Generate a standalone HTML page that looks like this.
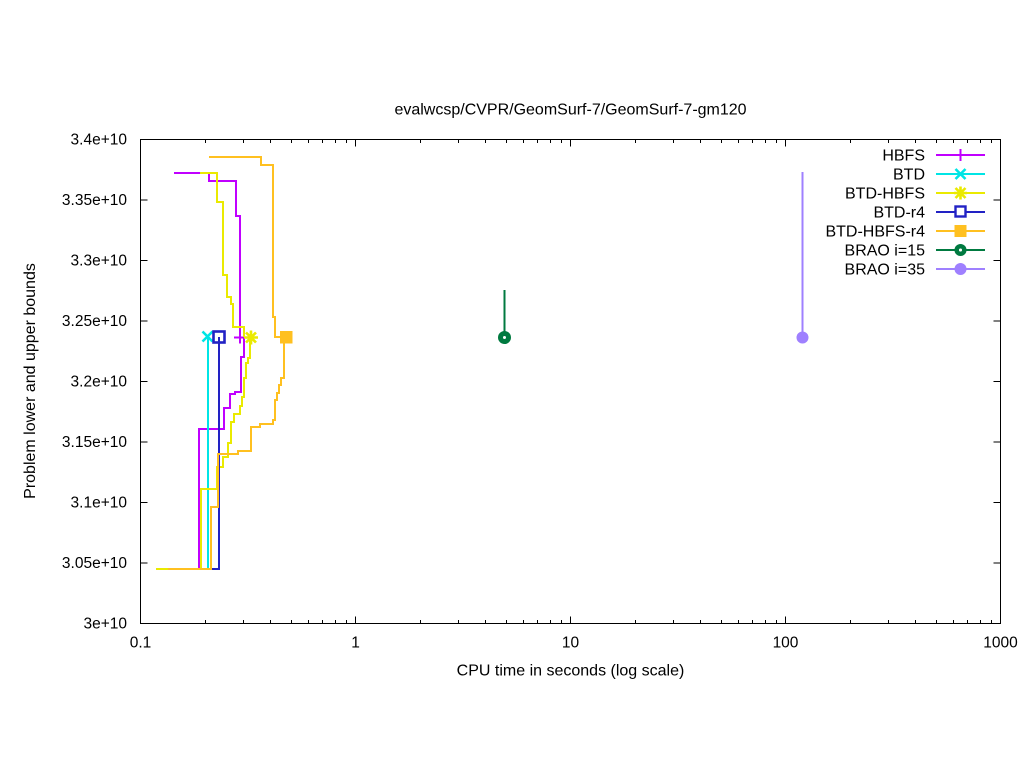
<!DOCTYPE html>
<html>
<head>
<meta charset="utf-8">
<style>
  html,body{margin:0;padding:0;background:#fff;}
  svg{display:block;}
  text{font-family:"Liberation Sans",Arial,sans-serif;fill:#000;}
</style>
</head>
<body>
<svg width="1024" height="768" viewBox="0 0 1024 768" xmlns="http://www.w3.org/2000/svg">
  <rect x="0" y="0" width="1024" height="768" fill="#fff"/>

  <!-- Title -->
  <text x="570.5" y="114.5" font-size="16" text-anchor="middle">evalwcsp/CVPR/GeomSurf-7/GeomSurf-7-gm120</text>

  <!-- Y tick labels -->
  <g font-size="15.5" text-anchor="end">
    <text x="127" y="144.5">3.4e+10</text>
    <text x="127" y="205">3.35e+10</text>
    <text x="127" y="265.5">3.3e+10</text>
    <text x="127" y="326">3.25e+10</text>
    <text x="127" y="386.5">3.2e+10</text>
    <text x="127" y="447">3.15e+10</text>
    <text x="127" y="507.5">3.1e+10</text>
    <text x="127" y="568">3.05e+10</text>
    <text x="127" y="628.5">3e+10</text>
  </g>

  <!-- X tick labels -->
  <g font-size="15.5" text-anchor="middle">
    <text x="140.5" y="647.5">0.1</text>
    <text x="355.5" y="647.5">1</text>
    <text x="570.5" y="647.5">10</text>
    <text x="785.5" y="647.5">100</text>
    <text x="1000.5" y="647.5">1000</text>
  </g>

  <!-- Axis labels -->
  <text x="570.5" y="675.5" font-size="16" text-anchor="middle">CPU time in seconds (log scale)</text>
  <text transform="translate(35,381) rotate(-90)" x="0" y="0" font-size="16" text-anchor="middle">Problem lower and upper bounds</text>

  <!-- Ticks -->
  <g stroke="#000" stroke-width="1" fill="none">
    <!-- Y major ticks left & right -->
    <path d="M140.5,200H147.5 M140.5,260.5H147.5 M140.5,321H147.5 M140.5,381.5H147.5 M140.5,442H147.5 M140.5,502.5H147.5 M140.5,563H147.5"/>
    <path d="M1000.5,200H993.5 M1000.5,260.5H993.5 M1000.5,321H993.5 M1000.5,381.5H993.5 M1000.5,442H993.5 M1000.5,502.5H993.5 M1000.5,563H993.5"/>
    <!-- X major ticks bottom & top -->
    <path d="M355.5,623.5V616.5 M570.5,623.5V616.5 M785.5,623.5V616.5"/>
    <path d="M355.5,139.5V146.5 M570.5,139.5V146.5 M785.5,139.5V146.5"/>
    <!-- X minor ticks bottom -->
    <path d="M205.5,623.5V620 M243.5,623.5V620 M270.5,623.5V620 M291.5,623.5V620 M308.5,623.5V620 M322.5,623.5V620 M335.5,623.5V620 M346.5,623.5V620
             M420.5,623.5V620 M458.5,623.5V620 M485.5,623.5V620 M506.5,623.5V620 M523.5,623.5V620 M537.5,623.5V620 M550.5,623.5V620 M561.5,623.5V620
             M635.5,623.5V620 M673.5,623.5V620 M700.5,623.5V620 M721.5,623.5V620 M738.5,623.5V620 M752.5,623.5V620 M765.5,623.5V620 M776.5,623.5V620
             M850.5,623.5V620 M888.5,623.5V620 M915.5,623.5V620 M936.5,623.5V620 M953.5,623.5V620 M967.5,623.5V620 M980.5,623.5V620 M991.5,623.5V620"/>
    <!-- X minor ticks top -->
    <path d="M205.5,139.5V143 M243.5,139.5V143 M270.5,139.5V143 M291.5,139.5V143 M308.5,139.5V143 M322.5,139.5V143 M335.5,139.5V143 M346.5,139.5V143
             M420.5,139.5V143 M458.5,139.5V143 M485.5,139.5V143 M506.5,139.5V143 M523.5,139.5V143 M537.5,139.5V143 M550.5,139.5V143 M561.5,139.5V143
             M635.5,139.5V143 M673.5,139.5V143 M700.5,139.5V143 M721.5,139.5V143 M738.5,139.5V143 M752.5,139.5V143 M765.5,139.5V143 M776.5,139.5V143
             M850.5,139.5V143 M888.5,139.5V143 M915.5,139.5V143 M936.5,139.5V143 M953.5,139.5V143 M967.5,139.5V143 M980.5,139.5V143 M991.5,139.5V143"/>
  </g>

  <!-- Series -->
  <g fill="none" stroke-width="2" stroke-linejoin="miter" stroke-linecap="butt">
    <!-- HBFS -->
    <path stroke="#c000ff" d="M174,173H209V181H236V216H240V337"/>
    <path stroke="#c000ff" d="M190,569H199V429H224V408H230V394H235V392H241V357H244V337"/>
    <path stroke="#c000ff" d="M234,337.5H246 M240,331.5V343.5"/>

    <!-- BTD -->
    <path stroke="#00e5e5" d="M190,569H208V337"/>
    <path stroke="#00e5e5" stroke-width="2.6" d="M202.5,331.5L212.5,341.5 M212.5,331.5L202.5,341.5"/>

    <!-- BTD-HBFS -->
    <path stroke="#eaea00" d="M200,173H217V202H223V275H227V297H231V304H233V327H244V337"/>
    <path stroke="#eaea00" d="M156,569H201V489H217V467H223V457H228V443H231V422H234V414H240V406H242V397H244V378H246V363H248V358H250V337"/>
    <path stroke="#eaea00" stroke-width="2.6" d="M244,337.5H258 M251,330.5V344.5 M246,332.5L256,342.5 M256,332.5L246,342.5"/>

    <!-- BTD-r4 -->
    <path stroke="#2222c4" d="M190,569H219V337"/>
    <rect x="213.5" y="331.5" width="11" height="11" stroke="#2222c4" stroke-width="2.6" fill="none"/>

    <!-- BTD-HBFS-r4 -->
    <path stroke="#ffc020" d="M209,157H261V165H273V317H275V337H286"/>
    <path stroke="#ffc020" d="M168,569H211V507H218V454H238V451H251V427H260V424H273V420H275V400H277V393H279V385H281V378H284V337H286"/>
    <rect x="280" y="331" width="12.5" height="12.5" fill="#ffc020" stroke="none"/>

    <!-- BRAO i=15 -->
    <path stroke="#007a40" d="M504.5,290V337"/>
    <circle cx="504.5" cy="337.5" r="4" stroke="#007a40" stroke-width="5" fill="#fff"/>

    <!-- BRAO i=35 -->
    <path stroke="#9f80ff" d="M802.5,172V337"/>
    <circle cx="802.5" cy="337.5" r="6" fill="#9f80ff" stroke="none"/>
  </g>

  <!-- Legend -->
  <g font-size="16" text-anchor="end">
    <text x="925" y="160.5">HBFS</text>
    <text x="925" y="179.5">BTD</text>
    <text x="925" y="198.5">BTD-HBFS</text>
    <text x="925" y="217.5">BTD-r4</text>
    <text x="925" y="236.5">BTD-HBFS-r4</text>
    <text x="925" y="255.5">BRAO i=15</text>
    <text x="925" y="274.5">BRAO i=35</text>
  </g>
  <g fill="none" stroke-width="2">
    <path stroke="#c000ff" d="M936,155H985 M960.5,149V161"/>
    <path stroke="#00e5e5" d="M936,174H985"/>
    <path stroke="#00e5e5" stroke-width="2.6" d="M955.5,169L965.5,179 M965.5,169L955.5,179"/>
    <path stroke="#eaea00" d="M936,193H985"/>
    <path stroke="#eaea00" stroke-width="2.6" d="M954,193H967 M960.5,186.5V199.5 M955.5,188L965.5,198 M965.5,188L955.5,198"/>
    <path stroke="#2222c4" d="M936,212H985"/>
    <rect x="955.5" y="206.5" width="10" height="10" stroke="#2222c4" stroke-width="2.4" fill="#fff"/>
    <path stroke="#ffc020" d="M936,231H985"/>
    <rect x="954.5" y="225" width="12" height="12" fill="#ffc020" stroke="none"/>
    <path stroke="#007a40" d="M936,250H985"/>
    <circle cx="960.5" cy="250" r="3.8" stroke="#007a40" stroke-width="4.5" fill="#fff"/>
    <path stroke="#9f80ff" d="M936,269H985"/>
    <circle cx="960.5" cy="269" r="6" fill="#9f80ff" stroke="none"/>
  </g>

  <!-- Border -->
  <rect x="140.5" y="139.5" width="860" height="484" fill="none" stroke="#000" stroke-width="1"/>
</body>
</html>
